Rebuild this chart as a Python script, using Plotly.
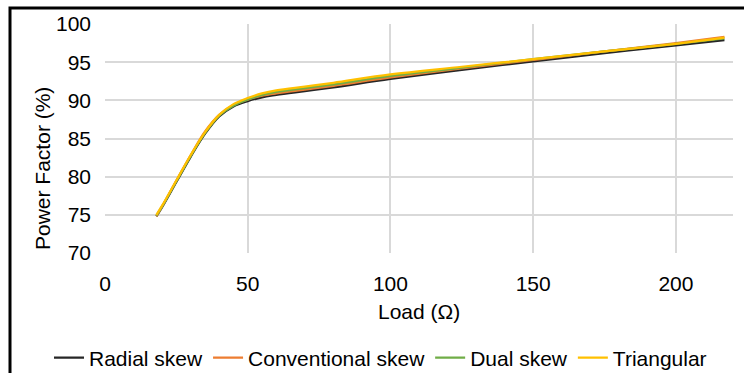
import plotly.graph_objects as go

load = [18, 20, 25, 30, 35, 40, 45, 50, 55, 60, 70, 80, 100, 125, 150, 175, 200, 217]

radial = [74.8, 76.0, 79.3, 82.6, 85.6, 87.9, 89.2, 89.9, 90.4, 90.7, 91.2, 91.7, 92.8, 94.0, 95.1, 96.2, 97.2, 97.9]
conventional = [74.8, 76.1, 79.5, 82.8, 85.9, 88.1, 89.4, 90.1, 90.6, 90.9, 91.4, 91.9, 93.0, 94.2, 95.3, 96.4, 97.5, 98.3]
dual = [74.9, 76.1, 79.4, 82.7, 85.7, 88.0, 89.3, 90.1, 90.7, 91.1, 91.6, 92.1, 93.2, 94.3, 95.4, 96.4, 97.4, 98.1]
triangular = [75.0, 76.2, 79.5, 82.8, 85.8, 88.1, 89.5, 90.3, 90.9, 91.3, 91.8, 92.3, 93.4, 94.4, 95.4, 96.4, 97.4, 98.2]

series_names = ["Radial skew", "Conventional skew", "Dual skew", "Triangular"]
series_vals = [radial, conventional, dual, triangular]
colors = ["#262626", "#ED7D31", "#70AD47", "#FFC000"]

x_ticks = [0, 50, 100, 150, 200]
y_ticks = [70, 75, 80, 85, 90, 95, 100]

FONT = "Liberation Sans, Arial, sans-serif"

L, R, T, B = 105, 11, 24, 120
W, H = 744, 373
PW, PH = W - L - R, H - T - B


def px_x(p):
    return (p - L) / PW


def px_y(p):
    return (H - B - p) / PH


fig = go.Figure()
for name, vals, col in zip(series_names, series_vals, colors):
    fig.add_trace(go.Scatter(x=load, y=vals, mode="lines", name=name,
                             line=dict(color=col, width=2.25, shape="spline")))

fig.update_layout(
    width=W, height=H,
    margin=dict(l=L, r=R, t=T, b=B, autoexpand=False),
    paper_bgcolor="white", plot_bgcolor="white",
    font=dict(family=FONT, size=21, color="#000000"),
    showlegend=True,
    legend=dict(orientation="h", x=px_x(49), xanchor="left",
                y=px_y(358), yanchor="middle",
                font=dict(size=21), itemwidth=30, tracegroupgap=0,
                bgcolor="rgba(0,0,0,0)"),
    xaxis=dict(range=[0, 220], tickvals=x_ticks, showgrid=True, gridcolor="#D9D9D9",
               gridwidth=1.5, zeroline=False, showline=False, ticks="",
               ticklabelstandoff=16),
    yaxis=dict(range=[70, 100], tickvals=y_ticks, showgrid=True, gridcolor="#D9D9D9",
               gridwidth=1.5, zeroline=False, showline=False, ticks="",
               ticklabelstandoff=13),
    annotations=[
        dict(text="Load (Ω)", xref="paper", yref="paper", x=0.5, y=px_y(311),
             xanchor="center", yanchor="middle", showarrow=False,
             font=dict(size=21)),
        dict(text="Power Factor (%)", xref="paper", yref="paper", x=px_x(42),
             y=px_y(169), xanchor="center", yanchor="middle", showarrow=False,
             textangle=-90, font=dict(size=21)),
    ],
    shapes=[dict(type="rect", xref="paper", yref="paper",
                 x0=px_x(10), x1=1.2, y0=-1.0, y1=px_y(8),
                 line=dict(color="black", width=3), fillcolor="rgba(0,0,0,0)",
                 layer="above")],
)

fig.write_html("out.html")
